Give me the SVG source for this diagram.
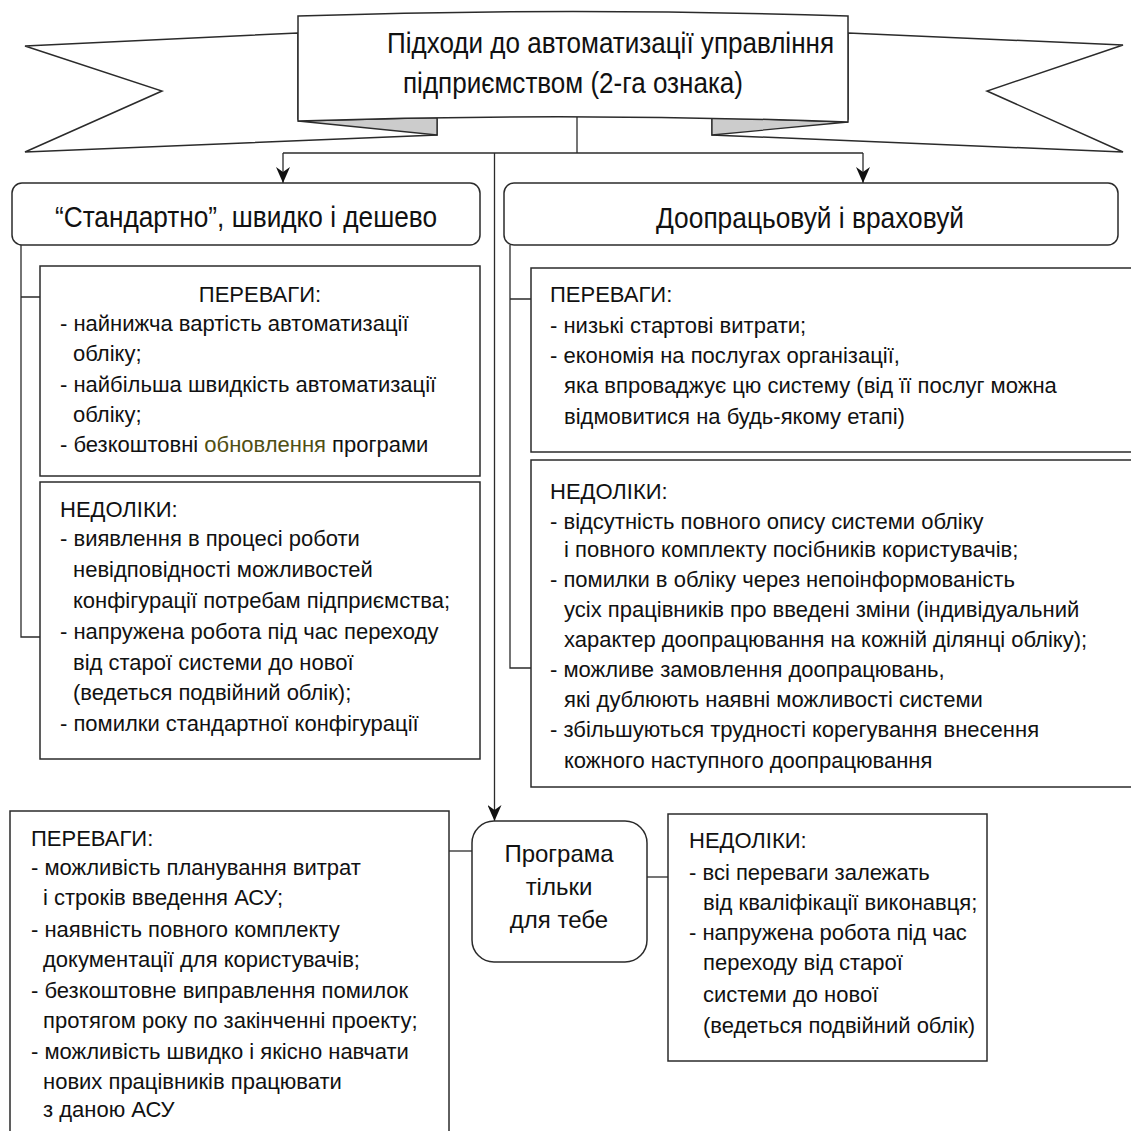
<svg xmlns="http://www.w3.org/2000/svg" width="1131" height="1131" viewBox="0 0 1131 1131">
<style>
.box{fill:#fff;stroke:#2b2b2b;stroke-width:1.5}
.fold{fill:#cccccc;stroke:#2b2b2b;stroke-width:1.3}
.conn{fill:none;stroke:#2b2b2b;stroke-width:1.3}
.t{font-family:"Liberation Sans",Arial,sans-serif;font-size:22px;fill:#111}
.big{font-family:"Liberation Sans",Arial,sans-serif;font-size:30px;fill:#111}
.mid{font-family:"Liberation Sans",Arial,sans-serif;font-size:24px;fill:#111}
.ol{fill:#4f4f14}
</style>
<defs>
<marker id="arr" viewBox="0 0 16 14" refX="16" refY="7" markerWidth="16" markerHeight="14" orient="auto" markerUnits="userSpaceOnUse">
<path d="M0,0 L16,7 L0,14 L5,7 Z" fill="#111"/>
</marker>
</defs>
<rect width="1131" height="1131" fill="#fff"/>

<g id="title">
<polygon class="box" points="298,33 25,46 162,91 25,152 437,135 437,119 298,119"/>
<polygon class="box" points="848,33 1123,45 987,91 1123,152 712,135 712,119 848,119"/>
<polygon class="fold" points="298,121 437,117.6 437,135"/>
<polygon class="fold" points="848,122 712,117.6 712,135"/>
<path class="box" d="M298,16 Q573,7 848,16 L848,122 Q573,112 298,121 Z"/>
<text class="big" x="387" y="53" textLength="447" lengthAdjust="spacingAndGlyphs">Підходи до автоматизації управління</text>
<text class="big" x="403" y="93" textLength="340" lengthAdjust="spacingAndGlyphs">підприємством (2-га ознака)</text>
</g>

<g id="connectors">
<path class="conn" d="M577,117 V153"/>
<path class="conn" d="M283,153 H863"/>
<path class="conn" d="M283,153 V183" marker-end="url(#arr)"/>
<path class="conn" d="M863,153 V183" marker-end="url(#arr)"/>
<path class="conn" d="M494.5,153 V821" marker-end="url(#arr)"/>
<path class="conn" d="M21,245 V637 H40 M21,297 H40"/>
<path class="conn" d="M510,245 V668 H531 M510,299 H531"/>
<path class="conn" d="M449,851 H472"/>
<path class="conn" d="M647,877 H668"/>
</g>

<g id="standard">
<rect class="box" x="12" y="183" width="468" height="62" rx="10"/>
<text class="big" x="55" y="227" textLength="382" lengthAdjust="spacingAndGlyphs">“Стандартно”, швидко і дешево</text>
</g>

<g id="dopratsiovui">
<rect class="box" x="504" y="183" width="614" height="62" rx="10"/>
<text class="big" x="656" y="228" textLength="308" lengthAdjust="spacingAndGlyphs">Доопрацьовуй і враховуй</text>
</g>

<g id="std-pros">
<rect class="box" x="40" y="266" width="440" height="210"/>
<text class="t" x="260" y="302" text-anchor="middle">ПЕРЕВАГИ:</text>
<text class="t" x="60" y="331">- найнижча вартість автоматизації</text>
<text class="t" x="73" y="361">обліку;</text>
<text class="t" x="60" y="392">- найбільша швидкість автоматизації</text>
<text class="t" x="73" y="422">обліку;</text>
<text class="t" x="60" y="452">- безкоштовні <tspan class="ol">обновлення</tspan> програми</text>
</g>

<g id="std-cons">
<rect class="box" x="40" y="482" width="440" height="277"/>
<text class="t" x="60" y="517">НЕДОЛІКИ:</text>
<text class="t" x="60" y="546">- виявлення в процесі роботи</text>
<text class="t" x="73" y="577">невідповідності можливостей</text>
<text class="t" x="73" y="608">конфігурації потребам підприємства;</text>
<text class="t" x="60" y="639">- напружена робота під час переходу</text>
<text class="t" x="73" y="670">від старої системи до нової</text>
<text class="t" x="73" y="700">(ведеться подвійний облік);</text>
<text class="t" x="60" y="731">- помилки стандартної конфігурації</text>
</g>

<g id="dop-pros">
<rect class="box" x="531" y="268" width="610" height="184"/>
<text class="t" x="550" y="302">ПЕРЕВАГИ:</text>
<text class="t" x="550" y="333">- низькі стартові витрати;</text>
<text class="t" x="550" y="363">- економія на послугах організації,</text>
<text class="t" x="564" y="393">яка впроваджує цю систему (від її послуг можна</text>
<text class="t" x="564" y="424">відмовитися на будь-якому етапі)</text>
</g>

<g id="dop-cons">
<rect class="box" x="531" y="460" width="610" height="327"/>
<text class="t" x="550" y="499">НЕДОЛІКИ:</text>
<text class="t" x="550" y="529">- відсутність повного опису системи обліку</text>
<text class="t" x="564" y="557">і повного комплекту посібників користувачів;</text>
<text class="t" x="550" y="587">- помилки в обліку через непоінформованість</text>
<text class="t" x="564" y="617">усіх працівників про введені зміни (індивідуальний</text>
<text class="t" x="564" y="647">характер доопрацювання на кожній ділянці обліку);</text>
<text class="t" x="550" y="677">- можливе замовлення доопрацювань,</text>
<text class="t" x="564" y="707">які дублюють наявні можливості системи</text>
<text class="t" x="550" y="737">- збільшуються трудності корегування внесення</text>
<text class="t" x="564" y="768">кожного наступного доопрацювання</text>
</g>

<g id="own-pros">
<rect class="box" x="10" y="811" width="439" height="330"/>
<text class="t" x="31" y="846">ПЕРЕВАГИ:</text>
<text class="t" x="31" y="875">- можливість планування витрат</text>
<text class="t" x="43" y="905">і строків введення АСУ;</text>
<text class="t" x="31" y="937">- наявність повного комплекту</text>
<text class="t" x="43" y="967">документації для користувачів;</text>
<text class="t" x="31" y="998">- безкоштовне виправлення помилок</text>
<text class="t" x="43" y="1028">протягом року по закінченні проекту;</text>
<text class="t" x="31" y="1059">- можливість швидко і якісно навчати</text>
<text class="t" x="43" y="1089">нових працівників працювати</text>
<text class="t" x="43" y="1117">з даною АСУ</text>
</g>

<g id="own">
<rect class="box" x="472" y="821" width="175" height="141" rx="22"/>
<text class="mid" x="559" y="862" text-anchor="middle">Програма</text>
<text class="mid" x="559" y="895" text-anchor="middle">тільки</text>
<text class="mid" x="559" y="928" text-anchor="middle">для тебе</text>
</g>

<g id="own-cons">
<rect class="box" x="668" y="814" width="319" height="247"/>
<text class="t" x="689" y="848">НЕДОЛІКИ:</text>
<text class="t" x="689" y="880">- всі переваги залежать</text>
<text class="t" x="703" y="910">від кваліфікації виконавця;</text>
<text class="t" x="689" y="940">- напружена робота під час</text>
<text class="t" x="703" y="970">переходу від старої</text>
<text class="t" x="703" y="1002">системи до нової</text>
<text class="t" x="703" y="1033">(ведеться подвійний облік)</text>
</g>
</svg>
